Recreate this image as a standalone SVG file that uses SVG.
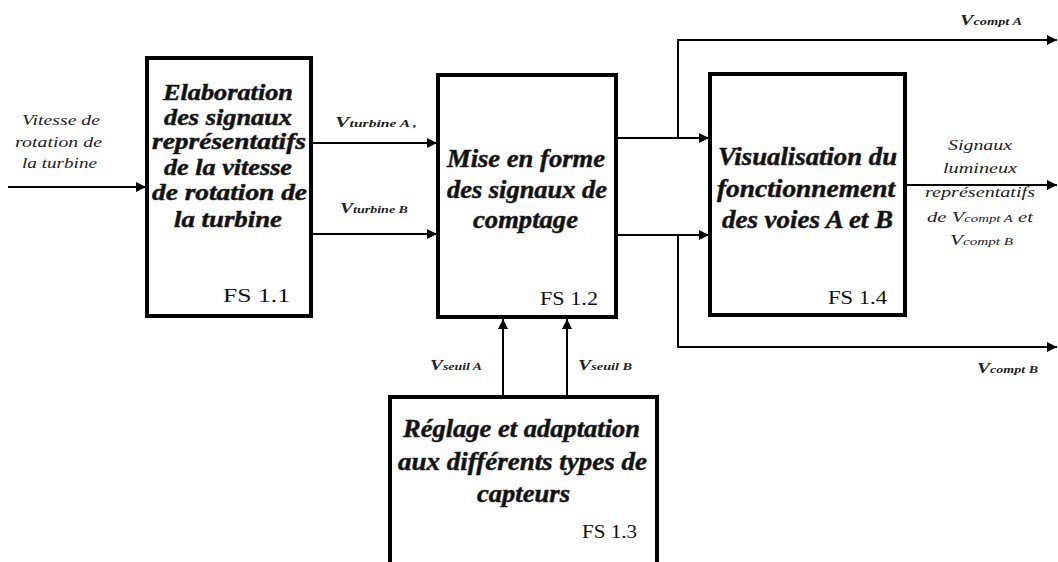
<svg xmlns="http://www.w3.org/2000/svg" width="1058" height="562" viewBox="0 0 1058 562">
<style>
text{fill:#111}
.box{fill:#fff;stroke:#000;stroke-width:4}
.ln{fill:none;stroke:#000;stroke-width:2}
.t{font-weight:bold;font-style:italic;font-size:23px;stroke:#222;stroke-width:0.5}
.t2{font-weight:bold;font-style:italic;font-size:25px;stroke:#222;stroke-width:0.5}
.fs{font-size:19px}
.s{font-style:italic;font-size:14px;fill:#222}
.sb{font-style:italic;font-weight:bold;font-size:14px;fill:#222}
.sub{font-size:10px}
</style>
<defs>
<marker id="ar" viewBox="0 0 10 10" refX="10" refY="5" markerWidth="5" markerHeight="5" orient="auto" markerUnits="strokeWidth">
<path d="M0,0 L10,5 L0,10 z" fill="#000"/>
</marker>
</defs>
<rect width="1058" height="562" fill="#fff"/>
<g id="connectors">
<line class="ln" x1="8" y1="187" x2="146" y2="187" marker-end="url(#ar)"/>
<line class="ln" x1="311" y1="143" x2="437" y2="143" marker-end="url(#ar)"/>
<line class="ln" x1="311" y1="234" x2="437" y2="234" marker-end="url(#ar)"/>
<line class="ln" x1="616" y1="138" x2="709" y2="138" marker-end="url(#ar)"/>
<line class="ln" x1="616" y1="235" x2="709" y2="235" marker-end="url(#ar)"/>
<polyline class="ln" points="678,138 678,40 1057,40" marker-end="url(#ar)"/>
<polyline class="ln" points="678,235 678,347 1057,347" marker-end="url(#ar)"/>
<line class="ln" x1="906" y1="185" x2="1057" y2="185" marker-end="url(#ar)"/>
<line class="ln" x1="503" y1="397" x2="503" y2="319" marker-end="url(#ar)"/>
<line class="ln" x1="567" y1="397" x2="567" y2="319" marker-end="url(#ar)"/>
</g>
<g id="labels" font-family="Liberation Serif">
<text class="s" x="22" y="125" textLength="78" lengthAdjust="spacingAndGlyphs">Vitesse de</text>
<text class="s" x="15" y="147" textLength="87" lengthAdjust="spacingAndGlyphs">rotation de</text>
<text class="s" x="22" y="168" textLength="75" lengthAdjust="spacingAndGlyphs">la turbine</text>
<text class="sb" x="335" y="127" textLength="82" lengthAdjust="spacingAndGlyphs">V<tspan class="sub">turbine A ,</tspan></text>
<text class="sb" x="340" y="213" textLength="68" lengthAdjust="spacingAndGlyphs">V<tspan class="sub">turbine B</tspan></text>
<text class="sb" x="960" y="25" textLength="62" lengthAdjust="spacingAndGlyphs">V<tspan class="sub">compt A</tspan></text>
<text class="sb" x="977" y="373" textLength="61" lengthAdjust="spacingAndGlyphs">V<tspan class="sub">compt B</tspan></text>
<text class="sb" x="430" y="370" textLength="52" lengthAdjust="spacingAndGlyphs">V<tspan class="sub">seuil A</tspan></text>
<text class="sb" x="578" y="370" textLength="54" lengthAdjust="spacingAndGlyphs">V<tspan class="sub">seuil B</tspan></text>
<text class="s" x="948" y="150" textLength="64" lengthAdjust="spacingAndGlyphs">Signaux</text>
<text class="s" x="943" y="173" textLength="74" lengthAdjust="spacingAndGlyphs">lumineux</text>
<text class="s" x="925" y="197" textLength="110" lengthAdjust="spacingAndGlyphs">représentatifs</text>
<text class="s" x="927" y="222" textLength="106" lengthAdjust="spacingAndGlyphs">de V<tspan class="sub">compt A</tspan> et</text>
<text class="s" x="950" y="245" textLength="63" lengthAdjust="spacingAndGlyphs">V<tspan class="sub">compt B</tspan></text>
</g>
<g id="fs11" font-family="Liberation Serif">
<rect class="box" x="147" y="58" width="164" height="258"/>
<text class="t" x="163" y="100" textLength="130" lengthAdjust="spacingAndGlyphs">Elaboration</text>
<text class="t" x="164" y="125" textLength="128" lengthAdjust="spacingAndGlyphs">des signaux</text>
<text class="t" x="152" y="149" textLength="154" lengthAdjust="spacingAndGlyphs">représentatifs</text>
<text class="t" x="164" y="175" textLength="128" lengthAdjust="spacingAndGlyphs">de la vitesse</text>
<text class="t" x="152" y="200" textLength="155" lengthAdjust="spacingAndGlyphs">de rotation de</text>
<text class="t" x="174" y="227" textLength="108" lengthAdjust="spacingAndGlyphs">la turbine</text>
<text class="fs" x="223" y="302" textLength="67" lengthAdjust="spacingAndGlyphs">FS 1.1</text>
</g>
<g id="fs12" font-family="Liberation Serif">
<rect class="box" x="438" y="75" width="178" height="242"/>
<text class="t2" x="447" y="167" textLength="158" lengthAdjust="spacingAndGlyphs">Mise en forme</text>
<text class="t2" x="447" y="198" textLength="160" lengthAdjust="spacingAndGlyphs">des signaux de</text>
<text class="t2" x="473" y="228" textLength="105" lengthAdjust="spacingAndGlyphs">comptage</text>
<text class="fs" x="540" y="305" textLength="58" lengthAdjust="spacingAndGlyphs">FS 1.2</text>
</g>
<g id="fs14" font-family="Liberation Serif">
<rect class="box" x="710" y="74" width="195" height="241"/>
<text class="t2" x="718" y="165" textLength="179" lengthAdjust="spacingAndGlyphs">Visualisation du</text>
<text class="t2" x="717" y="197" textLength="178" lengthAdjust="spacingAndGlyphs">fonctionnement</text>
<text class="t2" x="722" y="228" textLength="171" lengthAdjust="spacingAndGlyphs">des voies A et B</text>
<text class="fs" x="828" y="304" textLength="59" lengthAdjust="spacingAndGlyphs">FS 1.4</text>
</g>
<g id="fs13" font-family="Liberation Serif">
<rect class="box" x="390" y="397" width="267" height="180"/>
<text class="t2" x="403" y="437" textLength="237" lengthAdjust="spacingAndGlyphs">Réglage et adaptation</text>
<text class="t2" x="398" y="470" textLength="249" lengthAdjust="spacingAndGlyphs">aux différents types de</text>
<text class="t2" x="477" y="502" textLength="93" lengthAdjust="spacingAndGlyphs">capteurs</text>
<text class="fs" x="582" y="538" textLength="55" lengthAdjust="spacingAndGlyphs">FS 1.3</text>
</g>
</svg>
